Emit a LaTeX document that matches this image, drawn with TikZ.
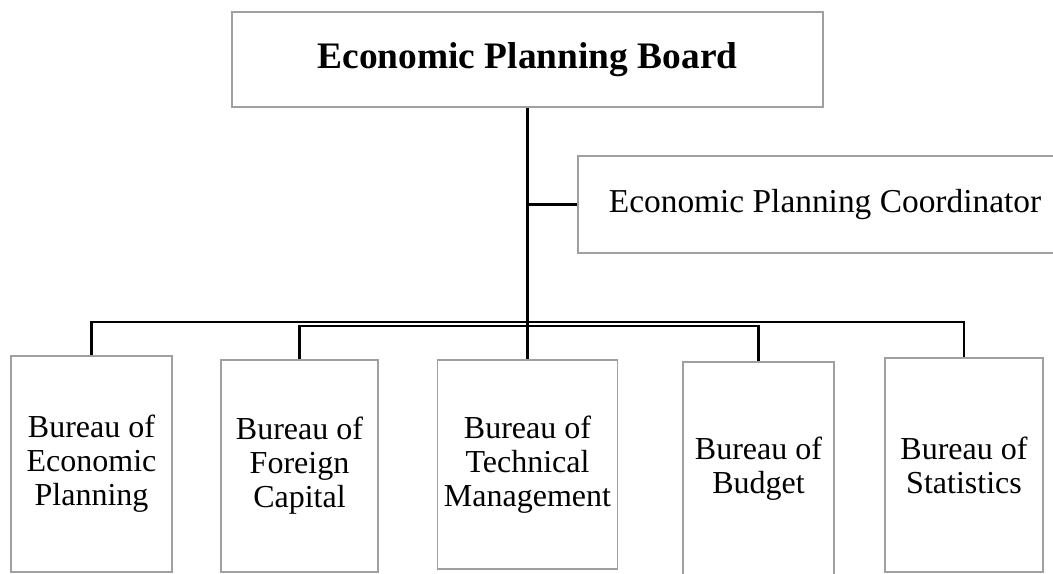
\documentclass[tikz,border=0pt]{standalone}
\usepackage{fontspec}
\setmainfont{Liberation Serif}
\usetikzlibrary{positioning}
\definecolor{framegray}{HTML}{A0A0A0}

\begin{document}
\begin{tikzpicture}[
        x=0.5pt, y=-0.5pt,
        office/.style={
            draw=framegray,
            line width=0.6pt,
            align=center,
            inner sep=0pt,
            font=\fontsize{16}{17}\selectfont
        },
        head/.style={office, font=\bfseries\fontsize{18.7}{22}\selectfont},
        staff/.style={office, font=\fontsize{16.7}{19}\selectfont},
        link/.style={line width=1.25pt, draw=black}
    ]
        \useasboundingbox (0,0) rectangle (1053,573);
        \clip (0,0) rectangle (1053,573);

        \node[head, minimum width=295.5pt, minimum height=47.5pt] (board) at (527.5,59.5) {Economic Planning Board};
        \node[staff, minimum width=247pt, minimum height=48.5pt] (coordinator) at (825,204.5) {Economic Planning Coordinator};

        \node[office, minimum width=80.5pt, minimum height=108pt] (econplan) at (91.5,464) {Bureau of\\Economic\\Planning};
        \node[office, minimum width=78.5pt, minimum height=106pt] (foreign) at (299.5,466) {Bureau of\\Foreign\\Capital};
        \node[office, minimum width=90pt, minimum height=104.5pt] (technical) at (527.5,464.5) {Bureau of\\Technical\\Management};
        \node[office, minimum width=75.5pt, minimum height=107pt] (budget) at (758.5,469) {Bureau of\\Budget};
        \node[office, minimum width=79pt, minimum height=107pt] (statistics) at (964,465) {Bureau of\\Statistics};

        % the two buses under the board
        \coordinate (busA) at (527.5,322);
        \coordinate (busB) at (527.5,326);

        \draw[link] (board.south) -- (technical.north);
        \draw[link] (coordinator.west) -- (coordinator.west -| board.south);
        \draw[link] (econplan.north) |- (busA) -| (statistics.north);
        \draw[link] (foreign.north) |- (busB) -| (budget.north);
    \end{tikzpicture}
\end{document}
